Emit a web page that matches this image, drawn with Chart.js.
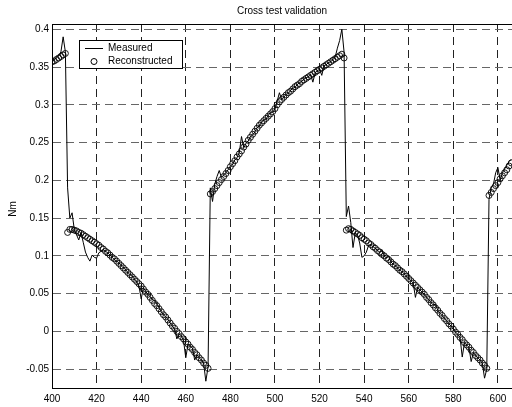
<!DOCTYPE html>
<html>
<head>
<meta charset="utf-8">
<script src="https://cdn.jsdelivr.net/npm/chart.js@4"></script>
<style>
  html, body { margin: 0; padding: 0; background: #fff; overflow: hidden; }
  canvas { display: block; }
</style>
</head>
<body>
<!-- canvas is a bit wider than the window: the plot is cut at the right edge like the original -->
<canvas id="chart" width="522" height="407"></canvas>
<script>
// sample positions (one sample per unit)
const sampleX = [
  400,401,402,403,404,405,406,407,408,409,
  410,411,412,413,414,415,416,417,418,419,
  420,421,422,423,424,425,426,427,428,429,
  430,431,432,433,434,435,436,437,438,439,
  440,441,442,443,444,445,446,447,448,449,
  450,451,452,453,454,455,456,457,458,459,
  460,461,462,463,464,465,466,467,468,469,
  470,471,472,473,474,475,476,477,478,479,
  480,481,482,483,484,485,486,487,488,489,
  490,491,492,493,494,495,496,497,498,499,
  500,501,502,503,504,505,506,507,508,509,
  510,511,512,513,514,515,516,517,518,519,
  520,521,522,523,524,525,526,527,528,529,
  530,531,532,533,534,535,536,537,538,539,
  540,541,542,543,544,545,546,547,548,549,
  550,551,552,553,554,555,556,557,558,559,
  560,561,562,563,564,565,566,567,568,569,
  570,571,572,573,574,575,576,577,578,579,
  580,581,582,583,584,585,586,587,588,589,
  590,591,592,593,594,595,596,597,598,599,
  600,601,602,603,604,605,606
];

const measured = [
  .357,.360,.362,.365,.370,.390,.370,.190,.150,.157,
  .135,.128,.121,.131,.118,.105,.098,.093,.101,.098,
  .097,.104,.106,.108,.106,.104,.101,.098,.095,.093,
  .091,.087,.084,.082,.078,.075,.073,.069,.066,.060,
  .043,.058,.053,.049,.046,.042,.041,.036,.032,.026,
  .022,.019,.016,.011,.007,.003,-.010,-.003,-.006,-.012,
  -.035,-.017,-.020,-.022,-.038,-.031,-.035,-.038,-.042,-.066,
  -.047,.190,.172,.195,.205,.213,.204,.207,.210,.214,
  .219,.221,.227,.230,.237,.258,.243,.249,.252,.258,
  .260,.264,.270,.272,.277,.280,.281,.286,.290,.290,
  .294,.305,.316,.307,.310,.314,.315,.319,.322,.323,
  .327,.329,.331,.334,.336,.337,.340,.330,.342,.345,
  .347,.339,.352,.353,.356,.357,.360,.363,.375,.385,
  .400,.370,.152,.166,.144,.111,.130,.128,.117,.098,
  .100,.105,.114,.115,.112,.110,.107,.105,.108,.100,
  .097,.100,.092,.089,.087,.084,.081,.079,.076,.073,
  .070,.067,.064,.045,.058,.055,.052,.049,.045,.042,
  .038,.035,.036,.028,.024,.021,.017,.014,.010,.007,
  .003,-.001,-.004,-.008,-.034,-.015,-.018,-.021,-.040,-.028,
  -.032,-.035,-.038,-.042,-.062,-.050,.175,.190,.195,.210,
  .217,.200,.210,.215,.220,.225,.228
];

const reconstructed = [
  .357,.358,.360,.362,.364,.366,.368,.131,.135,.135,
  .134,.133,.131,.130,.128,.126,.124,.122,.120,.118,
  .116,.114,.111,.109,.106,.104,.101,.098,.096,.093,
  .090,.087,.084,.081,.078,.075,.072,.069,.066,.063,
  .060,.056,.052,.049,.045,.041,.037,.034,.030,.026,
  .022,.019,.015,.011,.007,.004,.000,-.003,-.007,-.010,
  -.014,-.017,-.021,-.024,-.028,-.031,-.035,-.038,-.042,-.045,
  -.049,.182,.185,.189,.193,.197,.201,.205,.209,.213,
  .218,.222,.226,.231,.235,.239,.244,.248,.253,.257,
  .261,.265,.269,.273,.276,.279,.282,.285,.288,.291,
  .295,.300,.304,.307,.310,.313,.316,.318,.321,.324,
  .326,.328,.331,.333,.335,.337,.339,.341,.343,.345,
  .347,.349,.351,.353,.355,.357,.359,.361,.363,.365,
  .367,.362,.134,.136,.135,.133,.131,.129,.127,.124,
  .122,.120,.117,.115,.112,.110,.107,.105,.102,.100,
  .097,.095,.092,.089,.087,.084,.081,.079,.076,.073,
  .070,.067,.064,.061,.058,.055,.052,.049,.045,.042,
  .038,.035,.031,.028,.024,.021,.017,.014,.010,.007,
  .003,-.001,-.004,-.008,-.011,-.015,-.018,-.021,-.025,-.028,
  -.032,-.035,-.038,-.042,-.045,-.049,.180,.184,.189,.193,
  .197,.202,.206,.210,.214,.219,.223
];

const xTicks = [400, 420, 440, 460, 480, 500, 520, 540, 560, 580, 600];
const yTicks = [-0.05, 0, 0.05, 0.1, 0.15, 0.2, 0.25, 0.3, 0.35, 0.4];
const yTickLabels = ['-0.05', '0', '0.05', '0.1', '0.15', '0.2', '0.25', '0.3', '0.35', '0.4'];

const FONT = "'Liberation Sans', Arial, sans-serif";

// title, y label, top frame line and legend box (matlab style)
const decorPlugin = {
    id: 'decor',
    afterDatasetsDraw(chart) {
        const ctx = chart.ctx;
        const a = chart.chartArea;
        ctx.save();
        // top frame
        ctx.strokeStyle = '#000';
        ctx.lineWidth = 1;
        ctx.beginPath();
        ctx.moveTo(a.left, a.top + 0.5);
        ctx.lineTo(a.right, a.top + 0.5);
        ctx.stroke();

        ctx.fillStyle = '#000';
        ctx.font = '10px ' + FONT;
        ctx.textAlign = 'center';
        ctx.textBaseline = 'middle';
        ctx.fillText('Cross test validation', 282, 11);

        ctx.save();
        ctx.translate(13, 209);
        ctx.rotate(-Math.PI / 2);
        ctx.fillText('Nm', 0, 0);
        ctx.restore();

        // legend
        ctx.fillStyle = '#fff';
        ctx.fillRect(79.5, 40.5, 103, 28);
        ctx.strokeRect(79.5, 40.5, 103, 28);
        ctx.beginPath();
        ctx.moveTo(85, 48.5);
        ctx.lineTo(103, 48.5);
        ctx.stroke();
        ctx.beginPath();
        ctx.arc(94, 61.5, 3, 0, Math.PI * 2);
        ctx.stroke();
        ctx.fillStyle = '#000';
        ctx.textAlign = 'left';
        ctx.fillText(chart.data.datasets[0].label, 108, 48.5);
        ctx.fillText(chart.data.datasets[1].label, 108, 61.5);
        ctx.restore();
    }
};

new Chart(document.getElementById('chart'), {
    type: 'scatter',
    data: {
        datasets: [
            {
                label: 'Measured',
                data: sampleX.map((x, i) => ({ x, y: measured[i] })),
                showLine: true,
                borderColor: '#000',
                borderWidth: 1,
                pointRadius: 0,
                order: 1
            },
            {
                label: 'Reconstructed',
                data: sampleX.map((x, i) => ({ x, y: reconstructed[i] })),
                showLine: false,
                pointStyle: 'circle',
                pointRadius: 3,
                pointBorderWidth: 0.9,
                pointBorderColor: '#000',
                pointBackgroundColor: 'rgba(0,0,0,0)',
                order: 0
            }
        ]
    },
    options: {
        responsive: false,
        animation: false,
        devicePixelRatio: 1,
        layout: { autoPadding: false, padding: { top: 24, right: 0, bottom: 0, left: 0 } },
        plugins: { legend: { display: false }, tooltip: { enabled: false } },
        scales: {
            x: {
                type: 'linear',
                min: 400,
                max: 610.8,
                afterBuildTicks: s => { s.ticks = xTicks.map(v => ({ value: v })); },
                afterFit: s => { s.height = 19; s.paddingLeft = 0; s.paddingRight = 0; },
                ticks: { color: '#000', font: { family: FONT, size: 10 }, padding: 5, maxRotation: 0, autoSkip: false },
                grid: { color: '#222', drawTicks: false },
                border: { color: '#000', width: 1, dash: [8, 5] }
            },
            y: {
                type: 'linear',
                min: -0.075,
                max: 0.407,
                afterBuildTicks: s => { s.ticks = yTicks.map(v => ({ value: v })); },
                afterFit: s => { s.width = 52; s.paddingTop = 0; s.paddingBottom = 0; },
                ticks: {
                    color: '#000',
                    font: { family: FONT, size: 10 },
                    padding: 3,
                    autoSkip: false,
                    callback: (v) => yTickLabels[yTicks.indexOf(v)]
                },
                grid: { color: '#666', drawTicks: false },
                border: { color: '#000', width: 1, dash: [8, 5] }
            }
        }
    },
    plugins: [decorPlugin]
});
</script>
</body>
</html>
